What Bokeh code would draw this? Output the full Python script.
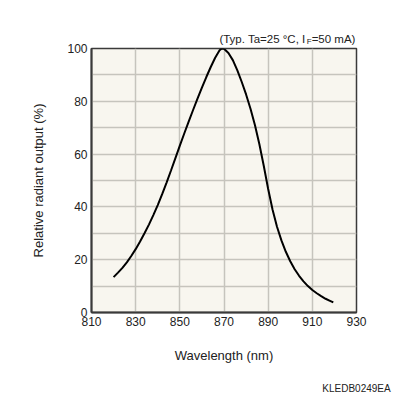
from bokeh.plotting import figure
from bokeh.models import Range1d, FixedTicker, LinearAxis
from bokeh.embed import file_html
from bokeh.resources import INLINE

# Data
wavelength = [820, 822, 824, 826, 828, 830, 832, 834, 836, 838, 840, 842, 844, 846,
              848, 850, 852, 854, 856, 858, 860, 862, 864, 866, 868, 869, 870, 872,
              874, 876, 878, 880, 882, 884, 886, 888, 890, 892, 894, 896, 898, 900,
              902, 904, 906, 908, 910, 912, 914, 916, 918, 919.5]
rel_output = [13.4, 15.1, 16.9, 19.0, 21.4, 24.0, 26.9, 30.0, 33.3, 36.9, 40.7, 44.8,
              49.2, 53.8, 58.5, 63.2, 67.8, 72.3, 76.7, 81.0, 85.2, 89.2, 93.0, 96.5,
              99.3, 100.0, 99.9, 98.3, 95.6, 91.8, 87.4, 82.6, 77.2, 71.0, 63.8, 55.6,
              46.8, 38.9, 32.5, 27.3, 23.0, 19.4, 16.4, 13.9, 11.8, 10.0, 8.5, 7.3, 6.2,
              5.2, 4.4, 3.8]
x_ticks = [810, 830, 850, 870, 890, 910, 930]
y_ticks = [0, 20, 40, 60, 80, 100]
y_grid = [0, 10, 20, 30, 40, 50, 60, 70, 80, 90, 100]
note_parts = ["(Typ. Ta=25 °C, I", "=50 mA)"]
note_sub = "F"
footer = "KLEDB0249EA"

FONT = "Liberation Sans"
TXT = "#222222"

p = figure(width=396, height=396, output_backend="svg", toolbar_location=None,
           x_range=Range1d(810, 930), y_range=Range1d(0, 100),
           min_border_left=91, min_border_right=40, min_border_top=48,
           min_border_bottom=83)
p.border_fill_color = "white"
p.background_fill_color = "#f8f6ef"
p.outline_line_color = "#3a3a3a"
p.outline_line_width = 1.5

p.line(wavelength, rel_output, line_color="black", line_width=2)

for ax in (p.xaxis[0], p.yaxis[0]):
    ax.axis_line_color = "#3a3a3a"
    ax.axis_line_width = 2
    ax.major_tick_out = 0
    ax.major_tick_in = 0
    ax.minor_tick_out = 0
    ax.minor_tick_in = 0
    ax.major_label_text_font = FONT
    ax.major_label_text_font_size = "12px"
    ax.major_label_text_color = TXT
    ax.axis_label_text_font = FONT
    ax.axis_label_text_font_size = "13px"
    ax.axis_label_text_font_style = "normal"
    ax.axis_label_text_color = TXT
    ax.major_label_standoff = 4
p.xaxis.axis_label_standoff = 19
p.yaxis.axis_label_standoff = 18

p.xaxis.ticker = FixedTicker(ticks=x_ticks)
p.yaxis.ticker = FixedTicker(ticks=y_ticks)
p.xaxis.axis_label = "Wavelength (nm)"
p.yaxis.axis_label = "Relative radiant output (%)"

p.xgrid.ticker = FixedTicker(ticks=x_ticks)
p.ygrid.ticker = FixedTicker(ticks=y_grid)
p.xgrid.grid_line_color = "#c6c4bd"
p.ygrid.grid_line_color = "#c6c4bd"
p.xgrid.grid_line_width = 1.5
p.ygrid.grid_line_width = 1.5


def text_axis(labels, size, standoff, side):
    """An unlined axis outside the frame whose tick labels carry free text."""
    locs = list(labels.keys())
    ax = LinearAxis(ticker=FixedTicker(ticks=locs), major_label_overrides=labels,
                    axis_line_color=None, major_tick_line_color=None,
                    minor_tick_line_color=None, major_tick_out=0, major_tick_in=0,
                    minor_tick_out=0, minor_tick_in=0,
                    major_label_standoff=standoff,
                    major_label_text_font=FONT, major_label_text_font_size=size,
                    major_label_text_color=TXT)
    p.add_layout(ax, side)
    return ax


# Condition note: subscript "F" (nearer the frame) and the main text above it
text_axis({908.6: note_sub}, "8px", 3, "above")
text_axis({887.4: note_parts[0], 919.6: note_parts[1]}, "11.5px", -11, "above")

# Document code, bottom right
text_axis({930: footer}, "10px", 17, "below")

open("out.html", "w").write(file_html(p, INLINE))
